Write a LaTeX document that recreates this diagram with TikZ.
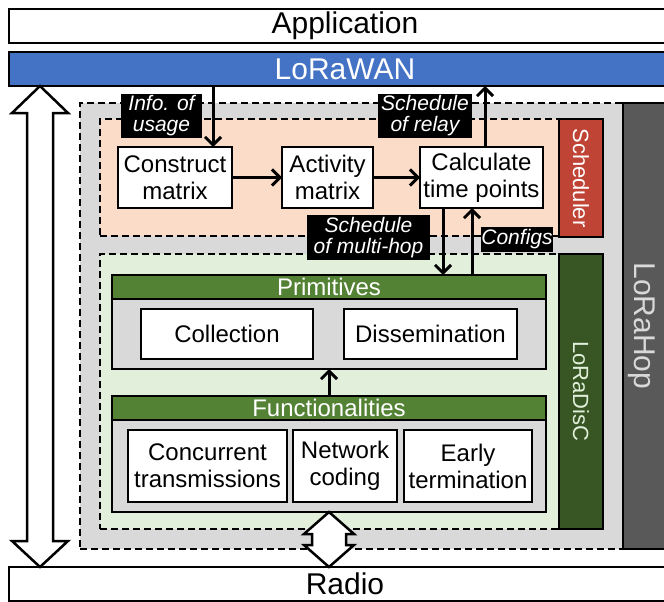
\documentclass[tikz,border=0pt]{standalone}
\usepackage{fontspec}
\setmainfont{Liberation Sans}
\usetikzlibrary{arrows.meta,calc}
\definecolor{wanblue}{HTML}{4472C4}
\definecolor{grayfill}{HTML}{D9D9D9}
\definecolor{hopgray}{HTML}{595959}
\definecolor{peach}{HTML}{FADCC9}
\definecolor{schedred}{HTML}{BF4435}
\definecolor{lightgreen}{HTML}{E2EFDA}
\definecolor{darkgreen}{HTML}{375623}
\definecolor{bargreen}{HTML}{548235}
\begin{document}
\begin{tikzpicture}[x=1pt,y=-1pt,
  every node/.style={inner sep=0pt, outer sep=0pt},
  layerbox/.style={draw, line width=2.5pt, rectangle, font=\fontsize{30}{30}\selectfont},
  dashedregion/.style={draw, line width=2.5pt, dash pattern=on 7pt off 4pt, rectangle},
  stepbox/.style={draw, line width=2.5pt, fill=white, align=center, font=\fontsize{24}{27}\selectfont},
  barbox/.style={draw, line width=2.5pt, fill=bargreen, text=white, font=\fontsize{24}{24}\selectfont,
    minimum width=434pt, minimum height=24pt},
  bodybox/.style={draw, line width=2.5pt, fill=grayfill, minimum width=434pt},
  tagbox/.style={fill=black, text=white, align=center, font=\fontsize{21}{21}\selectfont\itshape},
  sidebox/.style={draw, line width=2.5pt, rotate=-90, font=\fontsize{22}{22}\selectfont},
  flow/.style={line width=3pt, -{Straight Barb[length=8pt,width=16pt]}},
  blockarrow/.style={draw, line width=2.5pt, fill=white, line join=miter},
]
\useasboundingbox (0,0) rectangle (664,602);
\clip (0,0) rectangle (664,602);

% protocol stack layers
\node[layerbox, fill=white, minimum width=672pt, minimum height=34pt] (app) at (345,26) {Application};
\node[layerbox, fill=wanblue, text=white, minimum width=672pt, minimum height=34pt] (lorawan) at (345,69) {LoRaWAN};
\node[layerbox, fill=white, minimum width=672pt, minimum height=34pt] (radio) at (345,584) {Radio};

% LoRaHop container
\node[dashedregion, fill=grayfill, minimum width=543pt, minimum height=446pt] (hop) at (351.5,326) {};
\node[sidebox, fill=hopgray, text=grayfill, minimum width=446pt, minimum height=43pt,
  font=\fontsize{30}{30}\selectfont, text depth=0pt] (lorahop) at (644.5,326) {LoRaHop};

% Scheduler
\node[dashedregion, fill=peach, minimum width=459pt, minimum height=117pt] (sched) at (329.5,177.5) {};
\node[sidebox, fill=schedred, text=white, minimum width=118pt, minimum height=44pt] (schedtag) at (581,178) {Scheduler};

% LoRaDisC
\node[dashedregion, fill=lightgreen, minimum width=459pt, minimum height=275pt] (disc) at (329.5,391.5) {};
\node[sidebox, fill=darkgreen, text=lightgreen, minimum width=275pt, minimum height=44pt] (disctag) at (581,391.5) {LoRaDisC};

% scheduler steps
\node[stepbox, minimum width=114pt, minimum height=61pt] (cm) at (175,177.5) {Construct\\matrix};
\node[stepbox, minimum width=91pt, minimum height=61pt] (am) at (327.5,177.5) {Activity\\matrix};
\node[stepbox, minimum width=123pt, minimum height=61pt] (ct) at (481.5,177.5) {Calculate\\time points};

% primitives
\node[bodybox, minimum height=70pt] (primbody) at (329,334) {};
\node[barbox] (primbar) at (329,287) {Primitives};
\node[stepbox, minimum width=172pt, minimum height=50pt] (coll) at (227,334) {Collection};
\node[stepbox, minimum width=173pt, minimum height=50pt] (diss) at (430.5,334) {Dissemination};

% functionalities
\node[bodybox, minimum height=92pt] (funcbody) at (329,466) {};
\node[barbox] (funcbar) at (329,408) {Functionalities};
\node[stepbox, minimum width=159pt, minimum height=72pt] (conc) at (207.5,466) {Concurrent\\transmissions};
\node[stepbox, minimum width=104pt, minimum height=72pt] (netc) at (345,466) {Network\\coding};
\node[stepbox, minimum width=128pt, minimum height=72pt] (early) at (468,466) {Early\\termination};

% data flow
\coordinate (infox) at (213,0);
\coordinate (relx) at (485,0);
\coordinate (mhx) at (443,0);
\coordinate (cfx) at (472,0);
\draw[flow] (cm) -- (am);
\draw[flow] (am) -- (ct);
\draw[flow] (lorawan.south -| infox) -- (cm.north -| infox);
\draw[flow] (ct.north -| relx) -- (lorawan.south -| relx);
\draw[flow] (ct.south -| mhx) -- (primbar.north -| mhx);
\draw[flow] (primbar.north -| cfx) -- (ct.south -| cfx);
\draw[flow] (funcbar.north) -- (primbody.south);

% block arrows between layers
\coordinate (lx) at (40,0);
\coordinate (lt) at (lorawan.south -| lx);
\coordinate (lb) at (radio.north -| lx);
\draw[blockarrow] (lt) -- ++(28,27) -- ++(-15,0) -- ($(lb)+(13,-26)$) -- ++(15,0) -- (lb)
  -- ++(-28,-26) -- ++(15,0) -- ($(lt)+(-13,27)$) -- ++(-15,0) -- cycle;
\coordinate (ft) at (funcbody.south);
\coordinate (rb) at (radio.north -| ft);
\draw[blockarrow] (ft) -- ++(25,22) -- ++(-8,0) -- ($(rb)+(17,-22)$) -- ++(8,0) -- (rb)
  -- ++(-25,-22) -- ++(8,0) -- ($(ft)+(-17,22)$) -- ++(-8,0) -- cycle;

% flow labels
\node[tagbox, minimum width=81pt, minimum height=44pt] (info) at (161.5,116) {Info. of\\usage};
\node[tagbox, minimum width=94pt, minimum height=44pt] (relay) at (425,116) {Schedule\\of relay};
\node[tagbox, minimum width=123pt, minimum height=45pt] (mhop) at (368.5,237.5) {Schedule\\of multi-hop};
\node[tagbox, minimum width=70pt, minimum height=25pt] (cfg) at (517,239.5) {Configs};
\end{tikzpicture}
\end{document}
